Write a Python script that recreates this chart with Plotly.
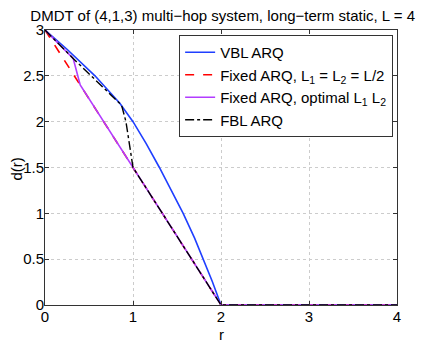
import plotly.graph_objects as go

# VBL ARQ
vbl_r = [0, 0.25, 0.568, 0.85, 1.0, 1.15, 1.3, 1.45, 1.57, 1.7, 1.8, 1.9, 2, 4]
vbl_d = [3, 2.79, 2.5, 2.2, 2.0, 1.76, 1.5, 1.23, 1.0, 0.73, 0.5, 0.26, 0, 0]
# Fixed ARQ, L1 = L2 = L/2
fixed_r = [0, 2, 4]
fixed_d = [3, 0, 0]
# Fixed ARQ, optimal L1 L2
opt_r = [0, 0.32, 0.4, 1, 2, 4]
opt_d = [3, 2.69, 2.4, 1.5, 0, 0]
# FBL ARQ
fbl_r = [0, 0.32, 0.87, 0.92, 1, 2, 4]
fbl_d = [3, 2.69, 2.18, 2.0, 1.5, 0, 0]

fig = go.Figure()
fig.add_trace(go.Scatter(x=vbl_r, y=vbl_d, mode="lines", name="VBL ARQ",
                         line=dict(color="#1f3fff", width=1.6)))
fig.add_trace(go.Scatter(x=fixed_r, y=fixed_d, mode="lines",
                         name="Fixed ARQ, L<sub>1</sub> = L<sub>2</sub> = L/2",
                         line=dict(color="red", width=1.6, dash="dash")))
fig.add_trace(go.Scatter(x=opt_r, y=opt_d, mode="lines",
                         name="Fixed ARQ, optimal L<sub>1</sub> L<sub>2</sub>",
                         line=dict(color="#b23cff", width=1.6)))
fig.add_trace(go.Scatter(x=fbl_r, y=fbl_d, mode="lines", name="FBL ARQ",
                         line=dict(color="black", width=1.4, dash="dashdot")))

axis = dict(showline=True, linecolor="#333", linewidth=1, mirror="allticks",
            ticks="inside", ticklen=4, tickcolor="#333",
            showgrid=True, gridcolor="#cccccc", griddash="dot", gridwidth=1,
            zeroline=False, tickfont=dict(size=15, color="black"), automargin=False)

# the page body adds an 8px offset, so the figure is sized to fit the window from there
fig.update_layout(
    width=421, height=334,
    margin=dict(l=37, r=32, t=22, b=37),
    paper_bgcolor="white", plot_bgcolor="white",
    font=dict(family="Liberation Sans, Arial, sans-serif", color="black"),
    title=dict(text="DMDT of (4,1,3) multi\u2212hop system, long\u2212term static, L = 4",
               x=0.51, xanchor="center", y=0.994, yanchor="top",
               font=dict(size=15)),
    xaxis=dict(axis, range=[0, 4], tickvals=[0, 1, 2, 3, 4],
               ticklabelstandoff=-2),
    yaxis=dict(axis, range=[0, 3], tickvals=[0, 0.5, 1, 1.5, 2, 2.5, 3],
               ticklabelstandoff=-3),
    legend=dict(x=0.989, y=0.982, xanchor="right", yanchor="top",
                bgcolor="white", bordercolor="#333", borderwidth=1,
                font=dict(size=15), tracegroupgap=0, itemwidth=30),
    showlegend=True,
)

# axis titles
fig.add_annotation(text="r", xref="paper", yref="paper", x=0.5, y=0,
                   xanchor="center", yanchor="middle", yshift=-29,
                   showarrow=False, font=dict(size=15))
fig.add_annotation(text="d(r)", xref="paper", yref="paper", x=0, y=0.5,
                   xanchor="center", yanchor="middle", xshift=-29, yshift=-2,
                   textangle=-90, showarrow=False, font=dict(size=15))

fig.write_html("out.html")
